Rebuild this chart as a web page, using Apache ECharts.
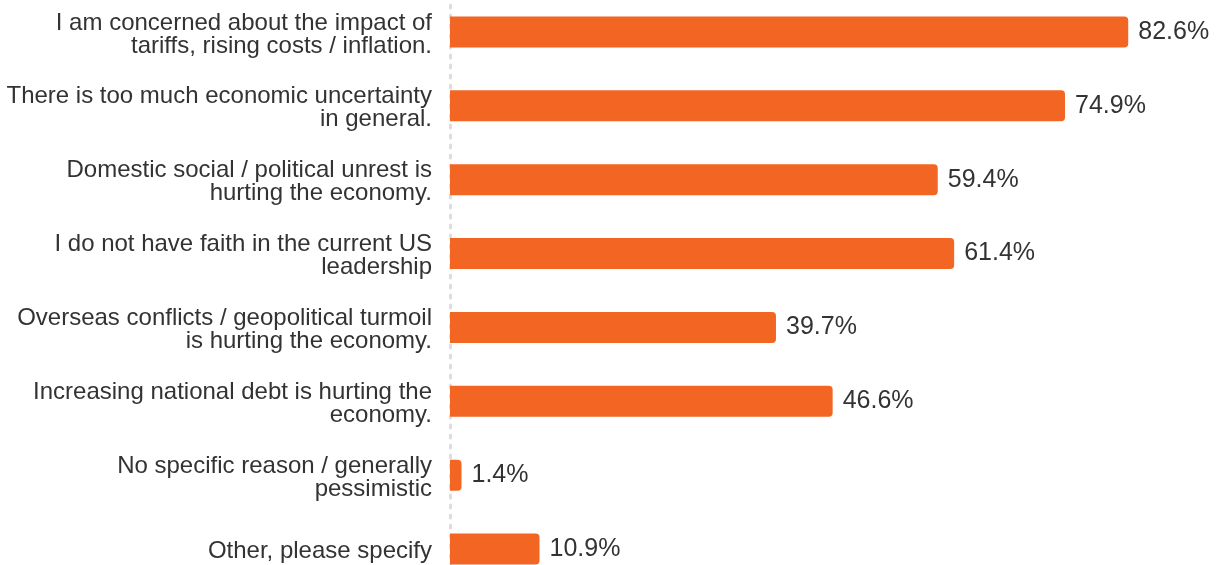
<!DOCTYPE html>
<html>
<head>
<meta charset="utf-8">
<script src="https://cdn.jsdelivr.net/npm/echarts@6/dist/echarts.min.js"></script>
<style>
  html, body { margin: 0; padding: 0; background: #ffffff; }
  #chart { width: 1217px; height: 565px; }
</style>
</head>
<body>
<div id="chart"></div>
<script>
const categories = [
  "I am concerned about the impact of\ntariffs, rising costs / inflation.",
  "There is too much economic uncertainty\nin general.",
  "Domestic social / political unrest is\nhurting the economy.",
  "I do not have faith in the current US\nleadership",
  "Overseas conflicts / geopolitical turmoil\nis hurting the economy.",
  "Increasing national debt is hurting the\neconomy.",
  "No specific reason / generally\npessimistic",
  "Other, please specify"
];
const values = [82.6, 74.9, 59.4, 61.4, 39.7, 46.6, 1.4, 10.9];

const chart = echarts.init(document.getElementById('chart'), null, { renderer: 'canvas' });
chart.setOption({
  animation: false,
  backgroundColor: '#ffffff',
  grid: { left: 450, right: 28, top: -5, bottom: -21, containLabel: false, outerBoundsMode: 'none' },
  xAxis: {
    type: 'value',
    min: 0,
    max: 90,
    show: false
  },
  yAxis: {
    type: 'category',
    data: categories,
    inverse: true,
    axisLine: {
      show: true,
      lineStyle: { color: '#dddddd', width: 3, type: [3, 7] }
    },
    axisTick: { show: false },
    axisLabel: {
      margin: 18,
      color: '#333333',
      fontFamily: '"Liberation Sans", Arial, sans-serif',
      fontSize: 24,
      lineHeight: 23,
      align: 'right',
      formatter: v => v.split('\n').map(s => '{a|' + s + '}').join('\n'),
      rich: {
        a: {
          color: '#333333',
          fontFamily: '"Liberation Sans", Arial, sans-serif',
          fontSize: 24,
          lineHeight: 23,
          padding: [5, 0, 0, 0]
        }
      }
    },
    splitLine: { show: false }
  },
  series: [{
    type: 'bar',
    data: values,
    barWidth: 31,
    itemStyle: { color: '#F26522', borderRadius: [0, 4, 4, 0] },
    label: {
      show: true,
      position: 'right',
      distance: 10,
      color: '#333333',
      fontFamily: '"Liberation Sans", Arial, sans-serif',
      fontSize: 25,
      formatter: p => p.value.toFixed(1) + '%'
    }
  }]
});
</script>
</body>
</html>
